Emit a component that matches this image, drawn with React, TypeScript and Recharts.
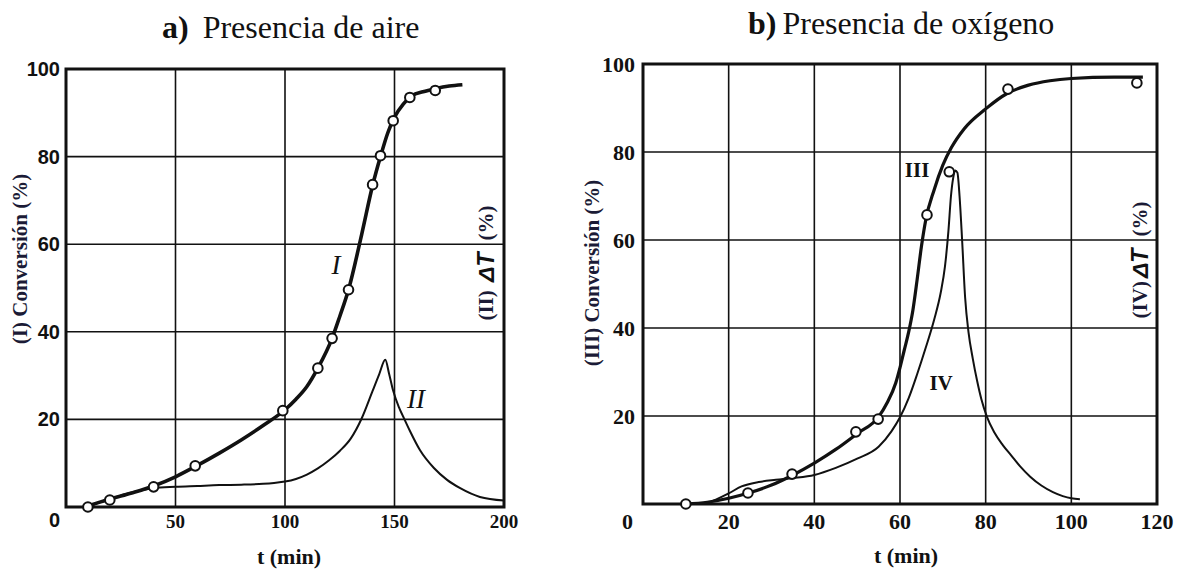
import React from "react"
import {
  ComposedChart,
  Line,
  Scatter,
  XAxis,
  YAxis,
  CartesianGrid,
  ReferenceArea,
  ReferenceDot,
  Label,
} from "recharts"

// ---- a) aire ----
const airTicksX = [50, 100, 150, 200]
const pctTicksLeft = [0, 20, 40, 60, 80, 100]
const pctTicksRight = [20, 40, 60, 80, 100]

// curva I: puntos medidos (circulos)
const airConvT = [10, 20, 40, 59, 99, 115, 121.5, 129, 140, 143.6, 149.4, 157, 168.6]
const airConvV = [0, 1.6, 4.6, 9.4, 22, 31.7, 38.5, 49.6, 73.6, 80.2, 88.2, 93.5, 95.1]
// curva I: trazo
const airCurveT = [9, 10, 20, 30, 40, 50, 60, 70, 80, 90, 100, 105, 110, 115, 121.5, 125, 129, 135, 140, 143.6, 147, 150, 154, 158, 163, 168.6, 175, 181]
const airCurveV = [0, 0.2, 1.8, 3.2, 4.8, 6.9, 9.5, 12.3, 15.3, 18.6, 22.2, 24.6, 27.5, 31.7, 38.5, 43.5, 49.6, 62.2, 73.4, 80, 85.5, 89, 92, 93.9, 94.8, 95.5, 96.1, 96.4]
// curva II: delta T
const airDtT = [10, 15, 20, 25, 30, 35, 40, 50, 60, 70, 80, 90, 95, 100, 105, 110, 115, 120, 125, 130, 135, 140, 143, 145.8, 147.5, 149.3, 152, 154, 157, 161.6, 168, 174, 180, 189, 200]
const airDtV = [0, 1, 1.9, 2.6, 3.3, 3.9, 4.3, 4.6, 4.8, 5.0, 5.1, 5.3, 5.5, 5.8, 6.4, 7.4, 8.8, 10.6, 12.8, 15.6, 20.2, 26.5, 30.3, 33.6, 30.5, 26.7, 22.8, 20.6, 17.4, 13, 8.9, 6.2, 4.3, 2.3, 1.5]

// ---- b) oxigeno ----
const oxyTicksX = [20, 40, 60, 80, 100, 120]

const oxyConvT = [10, 24.5, 34.8, 49.7, 54.9, 66.3, 71.5, 85.2, 115.3]
const oxyConvV = [0, 2.5, 6.8, 16.4, 19.3, 65.7, 75.5, 94.3, 95.7]

const oxyCurveT = [10, 15, 20, 25, 30, 35, 40, 45, 50, 55, 57, 59, 60, 61, 62, 63, 64, 65, 66, 68, 70, 72, 75, 80, 85, 90, 95, 100, 110, 116.7]
const oxyCurveV = [0, 0.4, 1.3, 2.6, 4.3, 6.6, 9.3, 12.4, 16, 19.8, 23, 27.5, 31, 35, 39, 44, 51, 58.5, 64.5, 71.5, 77, 81, 85.3, 89.8, 93.3, 95.2, 96.2, 96.7, 97, 97]

const oxyDtT = [14.5, 17, 20, 23, 27, 31, 35, 40, 45, 50, 55, 58, 60, 62, 64, 66, 68, 69.5, 70.5, 71.3, 71.9, 72.4, 72.9, 73.4, 73.9, 74.5, 75.2, 76, 77, 78, 79, 80.3, 82, 84, 86, 88, 90.4, 93, 95.7, 98, 100, 102]
const oxyDtV = [0, 1, 2.4, 4, 5, 5.5, 5.9, 6.6, 8.2, 10.3, 13, 16.5, 19.7, 24, 29.5, 35.5, 42, 48, 54, 62, 70, 74, 75.8, 75.3, 70, 60, 47, 39, 33, 28, 23.8, 19.8, 16.3, 13.4, 11, 8.6, 6.2, 4.2, 2.7, 1.8, 1.3, 1.1]

const zip = (ts: number[], vs: number[]) => ts.map((t, i) => ({ t, v: vs[i] }))

const INK = "#111"
const LABEL_INK = "#1b1b36"
const SERIF = "'Liberation Serif', 'Times New Roman', serif"
const SANS = "'Liberation Sans', Arial, sans-serif"

const Circle = (props: any) => {
  const { cx, cy } = props
  return <circle cx={cx} cy={cy} r={4.8} fill="#fff" stroke={INK} strokeWidth={2} />
}

const makeTick =
  (font: string, size: number, anchor: "start" | "middle" | "end", zeroDx = 0, zeroDy = 0) =>
  (p: any) => {
    const isZero = p.payload.value === 0
    return (
      <text
        x={p.x + (isZero ? zeroDx : 0)}
        y={p.y + (isZero ? zeroDy : 0)}
        textAnchor={anchor}
        dominantBaseline="central"
        fontFamily={font}
        fontSize={size}
        fontWeight="bold"
        fill={INK}
      >
        {p.payload.value}
      </text>
    )
  }

const tag = (text: string, size: number, italic: boolean) => (p: any) => (
  <text
    x={p.viewBox.x + p.viewBox.width / 2}
    y={p.viewBox.y + p.viewBox.height / 2}
    textAnchor="middle"
    dominantBaseline="central"
    fontFamily={SERIF}
    fontSize={size}
    fontStyle={italic ? "italic" : "normal"}
    fontWeight={italic ? "normal" : "bold"}
    fill={INK}
  >
    {text}
  </text>
)

const convLabel = (prefix: string, cx: number, cy: number) => () => (
  <text
    x={cx}
    y={cy}
    transform={`rotate(-90 ${cx} ${cy})`}
    textAnchor="middle"
    dominantBaseline="central"
    fontFamily={SERIF}
    fontSize={21}
    fontWeight="bold"
    fill={LABEL_INK}
  >
    {prefix} Conversión (%)
  </text>
)

const dtLabel = (prefix: string, cx: number, cy: number) => () => (
  <text
    x={cx}
    y={cy}
    transform={`rotate(-90 ${cx} ${cy})`}
    textAnchor="middle"
    dominantBaseline="central"
    fontFamily={SERIF}
    fontSize={21}
    fontWeight="bold"
    fill={LABEL_INK}
  >
    {prefix}
    <tspan fontFamily={SANS} fontStyle="italic" fontSize={23} fill={INK} dx={3}>
      ΔT
    </tspan>
    <tspan dx={12}>(%)</tspan>
  </text>
)

const timeLabel = (cx: number, cy: number, size: number) => () => (
  <text x={cx} y={cy} textAnchor="middle" dominantBaseline="central" fontFamily={SERIF} fontSize={size} fontWeight="bold" fill={INK}>
    t (min)
  </text>
)

const AirChart = () => (
  <ComposedChart width={560} height={571} margin={{ top: 69, right: 16, bottom: 34, left: 26 }}>
    <CartesianGrid stroke={INK} strokeWidth={1.6} />
    <XAxis
      type="number"
      dataKey="t"
      domain={[0, 200]}
      ticks={airTicksX}
      height={30}
      axisLine={false}
      tickLine={false}
      tickSize={0}
      tickMargin={14}
      tick={makeTick(SERIF, 19, "middle")}
    >
      <Label content={timeLabel(289, 556, 22)} />
    </XAxis>
    <YAxis
      type="number"
      domain={[0, 100]}
      ticks={pctTicksLeft}
      width={40}
      axisLine={false}
      tickLine={false}
      tickSize={0}
      tickMargin={6}
      tick={makeTick(SANS, 20, "end", 0, 13)}
    >
      <Label content={convLabel("(I)", 20, 259)} />
    </YAxis>
    <YAxis
      yAxisId="r"
      orientation="right"
      type="number"
      domain={[0, 100]}
      ticks={pctTicksRight}
      width={40}
      axisLine={false}
      tickLine={false}
      tickSize={0}
      tickMargin={8}
      tick={makeTick(SANS, 20, "start")}
    >
      <Label content={dtLabel("(II) ", 486, 263)} />
    </YAxis>
    <ReferenceArea x1={0} x2={200} y1={0} y2={100} fill="none" stroke={INK} strokeWidth={3} />
    <Line data={zip(airDtT, airDtV)} dataKey="v" type="monotone" stroke={INK} strokeWidth={2} dot={false} isAnimationActive={false} />
    <Line data={zip(airCurveT, airCurveV)} dataKey="v" type="monotone" stroke={INK} strokeWidth={3.6} dot={false} isAnimationActive={false} />
    <Scatter data={zip(airConvT, airConvV)} dataKey="v" shape={<Circle />} isAnimationActive={false} />
    <ReferenceDot x={123.3} y={55.3} r={1} fill="none" stroke="none" label={{ content: tag("I", 27, true) }} />
    <ReferenceDot x={159.8} y={24.7} r={1} fill="none" stroke="none" label={{ content: tag("II", 27, true) }} />
  </ComposedChart>
)

const OxyChart = () => (
  <ComposedChart width={634} height={571} margin={{ top: 64, right: 2, bottom: 37, left: 28 }}>
    <CartesianGrid stroke={INK} strokeWidth={1.6} />
    <XAxis
      type="number"
      dataKey="t"
      domain={[0, 120]}
      ticks={oxyTicksX}
      height={30}
      axisLine={false}
      tickLine={false}
      tickSize={0}
      tickMargin={17}
      tick={makeTick(SERIF, 22, "middle")}
    >
      <Label content={timeLabel(906 - 570, 555, 22)} />
    </XAxis>
    <YAxis
      type="number"
      domain={[0, 100]}
      ticks={pctTicksLeft}
      width={45}
      axisLine={false}
      tickLine={false}
      tickSize={0}
      tickMargin={8}
      tick={makeTick(SERIF, 22, "end", -2, 17)}
    >
      <Label content={convLabel("(III)", 592 - 570, 273)} />
    </YAxis>
    <YAxis
      yAxisId="r"
      orientation="right"
      type="number"
      domain={[0, 100]}
      ticks={pctTicksRight}
      width={45}
      axisLine={false}
      tickLine={false}
      tickSize={0}
      tickMargin={9}
      tick={makeTick(SERIF, 22, "start")}
    >
      <Label content={dtLabel("(IV)", 1140 - 570, 260)} />
    </YAxis>
    <ReferenceArea x1={0} x2={120} y1={0} y2={100} fill="none" stroke={INK} strokeWidth={3} />
    <Line data={zip(oxyDtT, oxyDtV)} dataKey="v" type="monotone" stroke={INK} strokeWidth={2} dot={false} isAnimationActive={false} />
    <Line data={zip(oxyCurveT, oxyCurveV)} dataKey="v" type="monotone" stroke={INK} strokeWidth={3.2} dot={false} isAnimationActive={false} />
    <Scatter data={zip(oxyConvT, oxyConvV)} dataKey="v" shape={<Circle />} isAnimationActive={false} />
    <ReferenceDot x={64} y={75.9} r={1} fill="none" stroke="none" label={{ content: tag("III", 21, false) }} />
    <ReferenceDot x={69.6} y={27.5} r={1} fill="none" stroke="none" label={{ content: tag("IV", 21, false) }} />
  </ComposedChart>
)

const titleStyle: React.CSSProperties = {
  position: "absolute",
  fontFamily: SERIF,
  fontSize: 32,
  color: INK,
  whiteSpace: "nowrap",
  lineHeight: "32px",
}

export default function App() {
  return (
    <div style={{ position: "absolute", left: 0, top: 0, width: 1204, height: 571, background: "#fff", overflow: "hidden" }}>
      <div style={{ ...titleStyle, left: 162, top: 11 }}>
        <b style={{ marginRight: 14 }}>a)</b>Presencia de aire
      </div>
      <div style={{ ...titleStyle, left: 748, top: 7 }}>
        <b style={{ marginRight: 6 }}>b)</b>Presencia de oxígeno
      </div>
      <div style={{ position: "absolute", left: 0, top: 0 }}>
        <AirChart />
      </div>
      <div style={{ position: "absolute", left: 570, top: 0 }}>
        <OxyChart />
      </div>
    </div>
  )
}
